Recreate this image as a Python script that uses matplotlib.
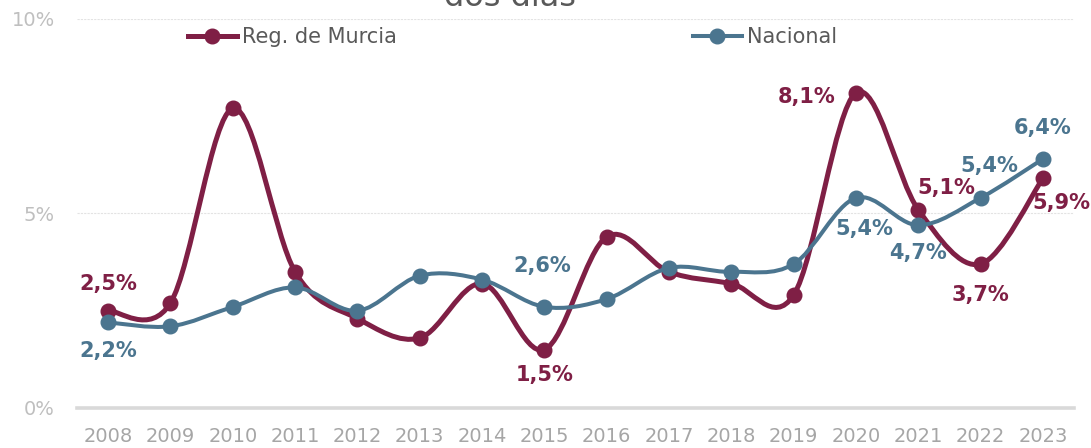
import numpy as np
import matplotlib
matplotlib.use("Agg")
import matplotlib.pyplot as plt
from matplotlib.path import Path
from matplotlib.patches import PathPatch
from matplotlib.lines import Line2D

years = ["2008", "2009", "2010", "2011", "2012", "2013", "2014", "2015",
         "2016", "2017", "2018", "2019", "2020", "2021", "2022", "2023"]
murcia = [2.5, 2.7, 7.7, 3.5, 2.3, 1.8, 3.2, 1.5, 4.4, 3.5, 3.2, 2.9, 8.1, 5.1, 3.7, 5.9]
nacional = [2.2, 2.1, 2.6, 3.1, 2.5, 3.4, 3.3, 2.6, 2.8, 3.6, 3.5, 3.7, 5.4, 4.7, 5.4, 6.4]
y_ticks = [0, 5, 10]
y_tick_labels = ["0%", "5%", "10%"]

# which points carry a label: (index, dx px, dy px)
murcia_labels = [(0, 0, 27), (7, 0, -25), (12, -49, -4), (13, 28, 22), (14, 0, -31), (15, 19, -25)]
nacional_labels = [(0, 0, -29), (7, -2, 41), (12, 8, -31), (13, 0, -28), (14, 9, 32), (15, 0, 31)]

C_MUR = "#7F1F45"
C_NAC = "#4B758F"


def smooth_path(xs, ys):
    # Excel-style smoothed line as cubic bezier segments
    pts = np.column_stack([xs, ys]).astype(float)
    n = len(pts)
    verts = [pts[0]]
    codes = [Path.MOVETO]
    for i in range(n - 1):
        p0 = pts[i - 1] if i > 0 else pts[i]
        p1 = pts[i]
        p2 = pts[i + 1]
        p3 = pts[i + 2] if i + 2 < n else pts[i + 1]
        c1 = p1 + (p2 - p0) / 6.0
        c2 = p2 - (p3 - p1) / 6.0
        verts += [c1, c2, p2]
        codes += [Path.CURVE4] * 3
    return Path(verts, codes)


fig = plt.figure(figsize=(10.91, 4.48), dpi=100)
ax = fig.add_axes([0.0706, 0.0893, 0.9138, 0.8683])

x = np.arange(len(years))

for vals, col, lw, z in [(murcia, C_MUR, 3.6, 3), (nacional, C_NAC, 2.9, 4)]:
    ax.add_patch(PathPatch(smooth_path(x, vals), facecolor="none", edgecolor=col,
                           lw=lw, capstyle="round", joinstyle="round", zorder=z))
    ax.plot(x, vals, ls="none", marker="o", ms=10.5, color=col, zorder=z + 0.5)

for labels, vals, col in [(murcia_labels, murcia, C_MUR), (nacional_labels, nacional, C_NAC)]:
    for i, dx, dy in labels:
        ax.annotate(f"{vals[i]:.1f}%".replace(".", ","), (x[i], vals[i]),
                    xytext=(dx, dy), textcoords="offset pixels",
                    ha="center", va="center", fontsize=15, fontweight="bold",
                    color=col, zorder=6)

ax.set_xlim(-0.5, 15.5)
ax.set_ylim(0, 10)
ax.set_xticks(x)
ax.set_xticklabels(years)
ax.set_yticks(y_ticks)
ax.set_yticklabels(y_tick_labels)
ax.tick_params(axis="x", length=0, pad=14, labelsize=14, labelcolor="#A6A6A6")
ax.tick_params(axis="y", length=0, pad=16, labelsize=14, labelcolor="#BFBFBF")

for s in ["top", "right", "left"]:
    ax.spines[s].set_visible(False)
ax.spines["bottom"].set_color("#D9D9D9")
ax.spines["bottom"].set_linewidth(2.6)
ax.spines["bottom"].set_zorder(1)
for yv in y_ticks[1:]:
    ax.axhline(yv, color="#E3E3E3", lw=0.8, ls=(0, (2, 1)), zorder=0)

h_mur = Line2D([], [], color=C_MUR, lw=3.6, marker="o", ms=10.5)
h_nac = Line2D([], [], color=C_NAC, lw=2.9, marker="o", ms=10.5)
for h, lab, xpos in [(h_mur, "Reg. de Murcia", 188), (h_nac, "Nacional", 693)]:
    fig.legend([h], [lab], loc="center left", bbox_to_anchor=(xpos / 1091, 1 - 37 / 448),
               frameon=False, borderpad=0, borderaxespad=0, handlelength=2.35,
               handletextpad=0.25, prop={"size": 15}, labelcolor="#595959")

fig.text(510 / 1091, 1 - 6 / 448, "dos días", ha="center", va="baseline",
         fontsize=23, color="#595959")

fig.savefig("out.png", dpi=100)
